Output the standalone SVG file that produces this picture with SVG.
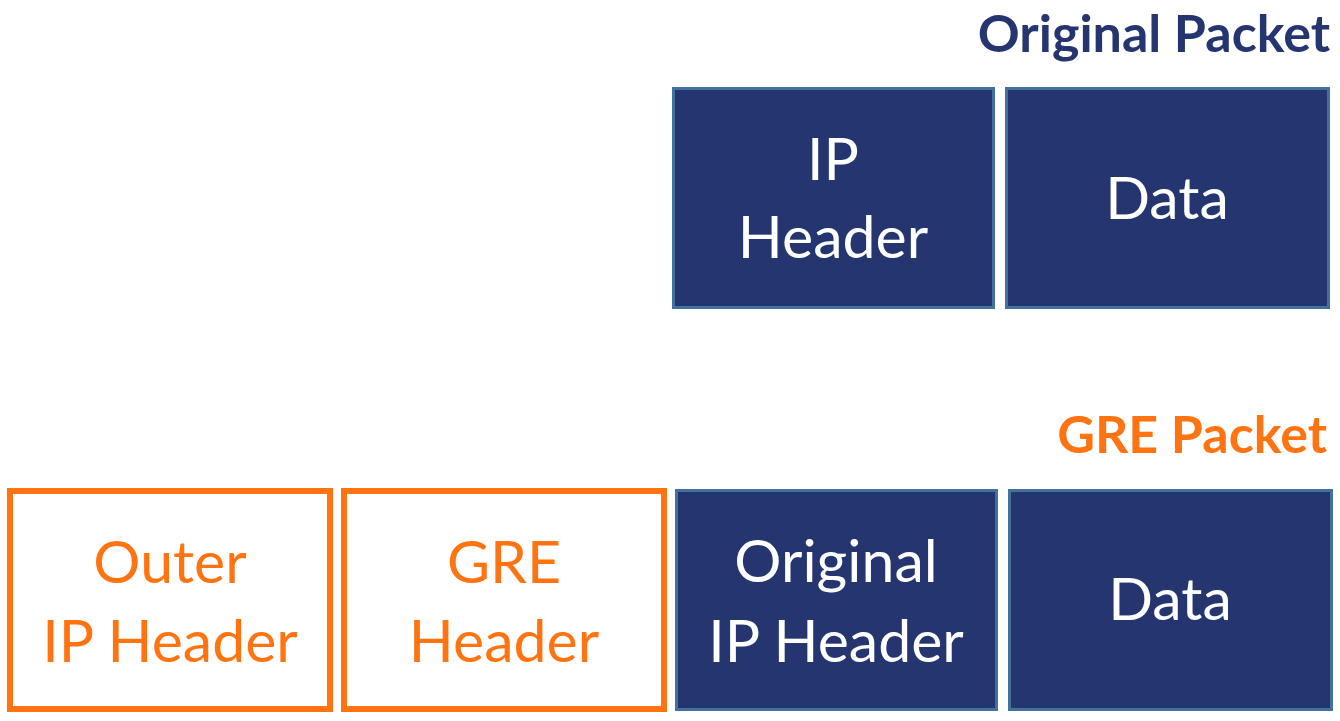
<svg xmlns="http://www.w3.org/2000/svg" width="1340" height="721" viewBox="0 0 1340 721">
<style>
.navy{fill:#253570;stroke:#41719C;stroke-width:3}
.orange{fill:#ffffff;stroke:#FF7410;stroke-width:6}
.t{font-family:Lato,"Open Sans",sans-serif;font-size:59px;text-anchor:middle}
.w{fill:#ffffff}
.o{fill:#FF7410}
.title{font-family:Lato,"Open Sans",sans-serif;font-size:52px;font-weight:bold;text-anchor:end}
</style>
<rect width="1340" height="721" fill="#ffffff"/>
<text id="title-original" class="title" x="1330" y="52" fill="#253570">Original Packet</text>
<text id="title-gre" class="title" x="1327" y="453" fill="#FF7410">GRE Packet</text>
<g id="ip-header">
<rect class="navy" x="673.5" y="88.5" width="320" height="219"/>
<text class="t w" x="833" y="180">IP</text>
<text class="t w" x="833" y="258">Header</text>
</g>
<g id="data-top">
<rect class="navy" x="1006.5" y="88.5" width="322" height="219"/>
<text class="t w" x="1167" y="219">Data</text>
</g>
<g id="outer-ip-header">
<rect class="orange" x="10" y="491" width="320" height="218"/>
<text class="t o" x="170" y="583">Outer</text>
<text class="t o" x="170" y="662">IP Header</text>
</g>
<g id="gre-header">
<rect class="orange" x="344" y="491" width="320" height="218"/>
<text class="t o" x="504" y="583">GRE</text>
<text class="t o" x="504" y="662">Header</text>
</g>
<g id="original-ip-header">
<rect class="navy" x="676.5" y="490.5" width="320" height="219"/>
<text class="t w" x="836" y="582">Original</text>
<text class="t w" x="836" y="662">IP Header</text>
</g>
<g id="data-bottom">
<rect class="navy" x="1009.5" y="490.5" width="322" height="219"/>
<text class="t w" x="1170" y="620">Data</text>
</g>
<g id="connectors"></g>
</svg>
